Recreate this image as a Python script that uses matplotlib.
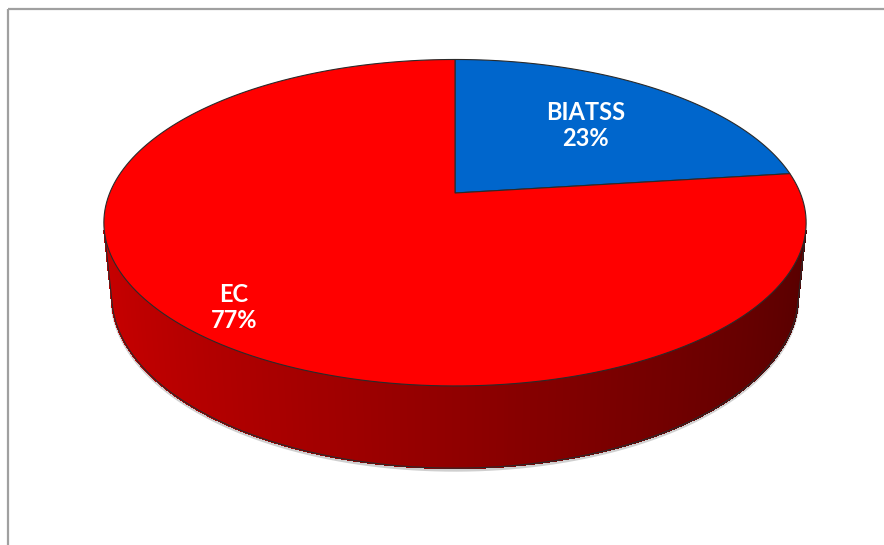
import numpy as np
import matplotlib.pyplot as plt
from matplotlib.colors import to_rgb
from matplotlib.patches import Polygon, Rectangle
from matplotlib.collections import PolyCollection

# Staff categories and their share (%)
labels = ["BIATSS", "EC"]
shares = [23, 77]
top_colors = ["#0066CC", "#FF0000"]

# 3D view: perspective camera looking down on a flat cylinder
W, H = 884, 545
cx, cy = 455, 193
focal = 1687
dist = 4.886
tilt = np.radians(27.2)
thick = 0.239
label_r = [0.62, 0.855]


def project(theta, y=0.0, r=1.0):
    X = r * np.cos(theta)
    Z = r * np.sin(theta)
    d = dist - y * np.sin(tilt) + Z * np.cos(tilt)
    sx = focal * X / d
    sy = focal * (y * np.cos(tilt) + Z * np.sin(tilt)) / d
    return cx + sx, cy - sy


def shade(theta):
    # light coming from the left
    return 0.565 + 0.222 * np.cos(theta - np.pi)


fracs = np.array(shares) / sum(shares)
starts = np.radians(90) - 2 * np.pi * np.concatenate([[0], np.cumsum(fracs)[:-1]])
ends = starts - 2 * np.pi * fracs

fig = plt.figure(figsize=(W / 100, H / 100), dpi=100)
ax = fig.add_axes([0, 0, 1, 1])
ax.set_xlim(0, W)
ax.set_ylim(H, 0)
ax.axis("off")

# side wall, only the part facing the camera
a = np.arcsin(1 / (dist * np.cos(tilt)))
t = np.linspace(np.pi + a, 2 * np.pi - a, 300)
quads, cols = [], []
for t0, t1 in zip(t[:-1], t[1:]):
    tm = 0.5 * (t0 + t1)
    idx = 0
    for i, (s, e) in enumerate(zip(starts, ends)):
        if (tm - e) % (2 * np.pi) <= (s - e):
            idx = i
    c = np.clip(np.array(to_rgb(top_colors[idx])) * shade(tm), 0, 1)
    quads.append([project(t0), project(t1), project(t1, -thick), project(t0, -thick)])
    cols.append(c)
ax.add_collection(PolyCollection(quads, facecolors=cols, edgecolors=cols,
                                 linewidths=0.8, antialiaseds=False, zorder=1))

edge = "#2a2a2a"
bx, by = project(t, -thick)
# soft shadow under the bottom rim
ax.plot(bx, by + 2, color="#b0b0b0", lw=2.2, alpha=0.6, zorder=0.5)
ax.plot(bx, by, color=edge, lw=0.8, zorder=2)
for tt in (t[0], t[-1]):
    x0, y0 = project(tt)
    x1, y1 = project(tt, -thick)
    ax.plot([x0, x1], [y0, y1], color=edge, lw=0.8, zorder=2)

# top face wedges
for i in range(len(shares)):
    arc = np.linspace(starts[i], ends[i], 200)
    px, py = project(arc)
    pts = np.column_stack([np.r_[cx, px], np.r_[cy, py]])
    ax.add_patch(Polygon(pts, closed=True, facecolor=top_colors[i],
                         edgecolor=edge, lw=0.8, zorder=3))

# labels
for i in range(len(shares)):
    mid = 0.5 * (starts[i] + ends[i])
    lx, ly = project(mid, 0.0, label_r[i])
    ax.text(lx, ly, f"{labels[i]}\n{shares[i]}%", color="white",
            fontsize=17, fontweight="bold", family="Lato",
            ha="center", va="center", linespacing=1.15, zorder=4)

# chart area border
ax.add_patch(Rectangle((7.5, 8.5), W, H, fill=False, edgecolor="#a0a0a0",
                       lw=1.6, zorder=5))

fig.savefig("out.png", dpi=100)
